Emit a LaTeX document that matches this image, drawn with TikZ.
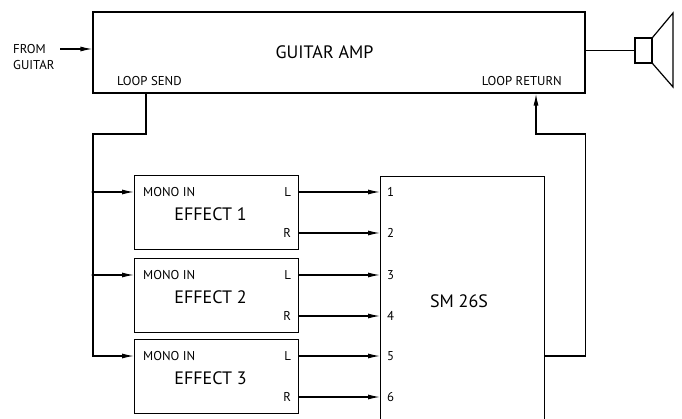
\documentclass[tikz,border=0pt]{standalone}
\usepackage{fontspec}
\setmainfont{PT Sans}
\usetikzlibrary{arrows.meta,positioning}
\begin{document}
\begin{tikzpicture}[x=1pt,y=-1pt]
		\tikzstyle{boite} = [draw,rectangle,line width=1.2pt,inner sep=0pt];
		\tikzstyle{petit} = [font=\fontsize{12.8}{16}\selectfont,inner sep=0pt];
		\tikzstyle{grand} = [font=\fontsize{18}{18}\selectfont,inner sep=0pt];
		\tikzstyle{fil} = [line width=1.2pt];
		\tikzstyle{fleche} = [-{Latex[length=12pt,width=5pt]},line width=1.2pt];
		
		\useasboundingbox (0,0) rectangle (682,419);
		
		% ampli et haut-parleur
		\node[boite,minimum width=492pt,minimum height=81pt] (ampli) at (339,52.5) {};
		\node[grand] (nomampli) at (324.5,52) {GUITAR AMP};
		\node[petit,anchor=west] (send) at (117,81) {LOOP SEND};
		\node[petit,anchor=east] (return) at (562,81) {LOOP RETURN};
		\node[petit,align=left,anchor=north west] (guitare) at (13,44) {FROM\\GUITAR};
		\coordinate (entree) at (60,49);
		\draw[fleche] (entree) -- (entree -| ampli.west);
		
		\node[boite,minimum width=17pt,minimum height=25pt] (hp) at (643.5,50.5) {};
		\draw[fil] (ampli.east |- hp) -- (hp.west);
		\draw[fil] (hp.north east) -- (673,13) -- (673,87) -- (hp.south east);
		
		% effets
		\foreach \i/\y in {1/175,2/258,3/339}{
			\node[boite,minimum width=164pt,minimum height=74pt,anchor=north west] (effet\i) at (134,\y) {};
			\coordinate (mono\i) at ([yshift=-17pt]effet\i.north west);
			\node[petit,anchor=west] at ([xshift=9pt]mono\i) {MONO IN};
			\node[petit,anchor=east] at ([xshift=-8pt,yshift=-17pt]effet\i.north east) {L};
			\node[petit,anchor=east] at ([xshift=-8pt,yshift=-58pt]effet\i.north east) {R};
			\node[grand] at ([xshift=-6pt,yshift=-39pt]effet\i.north) {EFFECT \i};
		}
		
		% SM 26S
		\node[boite,minimum width=164pt,minimum height=260pt,anchor=north west] (sm) at (380,176) {};
		\node[grand] (nomsm) at (459,301) {SM 26S};
		\foreach \n/\y in {1/192,2/233,3/275,4/316,5/356,6/397}{
			\coordinate (in\n) at (380,\y);
			\node[petit,anchor=west] at ([xshift=7pt]in\n) {\n};
		}
		\foreach \i/\a/\b in {1/1/2,2/3/4,3/5/6}{
			\draw[fleche] (effet\i.east |- in\a) -- (in\a);
			\draw[fleche] (effet\i.east |- in\b) -- (in\b);
		}
		
		% boucle
		\coordinate (envoi) at (146,134);
		\coordinate (bus) at (93,134);
		\coordinate (retour) at (536,134);
		\draw[fleche] (ampli.south -| envoi) -- (envoi) -- (bus) -- (bus |- mono3) -- (mono3);
		\foreach \i in {1,2}{
			\draw[fleche] (bus |- mono\i) -- (mono\i);
			\fill (bus |- mono\i) circle (1.6pt);
		}
		\draw[fleche] (sm.east |- in5) -- (ampli.east |- in5) -- (ampli.east |- retour) -- (retour) -- (ampli.south -| retour);
		
	\end{tikzpicture}
\end{document}
